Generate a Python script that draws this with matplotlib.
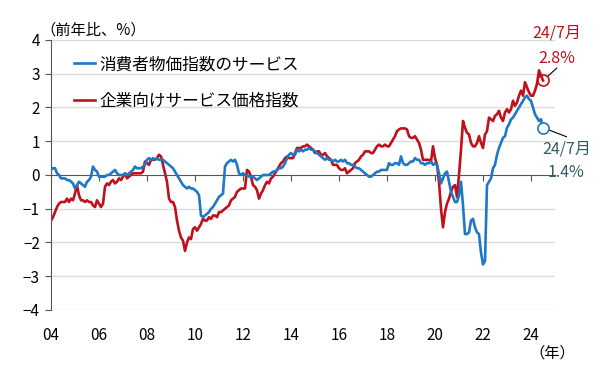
import numpy as np
import matplotlib
matplotlib.use("Agg")
import matplotlib.pyplot as plt

plt.rcParams['font.family'] = ['Noto Sans CJK JP', 'DejaVu Sans']

# 月次データ（2004年1月～2024年7月、前年比%）
cpi_services = [
    0.15, 0.2, 0.2, 0.05, 0.0, -0.1, -0.1, -0.1, -0.15, -0.15, -0.2, -0.25,       # 2004
    -0.4, -0.3, -0.2, -0.25, -0.3, -0.35, -0.2, -0.15, -0.05, 0.25, 0.15, 0.1,     # 2005
    -0.05, -0.05, -0.05, -0.05, 0.0, 0.0, 0.05, 0.1, 0.15, 0.05, 0.0, 0.0,         # 2006
    0.0, 0.05, 0.0, 0.05, 0.1, 0.15, 0.25, 0.2, 0.2, 0.2, 0.25, 0.3,               # 2007
    0.45, 0.5, 0.45, 0.5, 0.45, 0.5, 0.45, 0.45, 0.45, 0.4, 0.35, 0.3,             # 2008
    0.25, 0.2, 0.1, 0.0, -0.1, -0.2, -0.3, -0.35, -0.4, -0.35, -0.4, -0.4,         # 2009
    -0.45, -0.5, -0.6, -1.2, -1.25, -1.2, -1.15, -1.1, -1.0, -0.95, -0.85, -0.75,  # 2010
    -0.65, -0.6, -0.55, 0.25, 0.35, 0.4, 0.45, 0.4, 0.45, 0.3, 0.05, 0.0,          # 2011
    0.05, 0.0, 0.0, -0.05, -0.05, -0.05, -0.1, -0.15, -0.1, -0.05, 0.0, 0.0,       # 2012
    0.0, 0.0, 0.05, 0.1, 0.1, 0.15, 0.2, 0.2, 0.25, 0.35, 0.5, 0.6,                # 2013
    0.65, 0.6, 0.6, 0.75, 0.7, 0.75, 0.7, 0.75, 0.75, 0.8, 0.75, 0.75,             # 2014
    0.7, 0.65, 0.6, 0.55, 0.5, 0.45, 0.5, 0.45, 0.45, 0.4, 0.45, 0.4,              # 2015
    0.4, 0.45, 0.4, 0.45, 0.35, 0.35, 0.3, 0.3, 0.25, 0.2, 0.2, 0.15,              # 2016
    0.1, 0.05, 0.0, -0.05, -0.05, 0.0, 0.05, 0.1, 0.1, 0.15, 0.15, 0.15,           # 2017
    0.15, 0.35, 0.3, 0.3, 0.35, 0.35, 0.3, 0.55, 0.35, 0.3, 0.3, 0.35,             # 2018
    0.4, 0.4, 0.5, 0.45, 0.45, 0.35, 0.35, 0.3, 0.35, 0.35, 0.4, 0.3,              # 2019
    0.35, 0.3, 0.05, -0.25, -0.1, 0.05, 0.1, -0.2, -0.5, -0.65, -0.8, -0.8,        # 2020
    -0.6, -0.2, -0.9, -1.75, -1.75, -1.7, -1.35, -1.3, -1.55, -1.7, -1.75, -2.3,   # 2021
    -2.65, -2.55, -0.3, -0.2, -0.1, 0.2, 0.3, 0.6, 0.8, 0.95, 1.1, 1.15,           # 2022
    1.4, 1.5, 1.65, 1.7, 1.8, 1.9, 2.0, 2.1, 2.2, 2.3, 2.35, 2.25,                 # 2023
    2.2, 2.0, 1.8, 1.7, 1.6, 1.65, 1.4,                                            # 2024
]

cspi = [
    -1.35, -1.25, -1.1, -0.95, -0.85, -0.8, -0.8, -0.8, -0.7, -0.8, -0.7, -0.75,   # 2004
    -0.55, -0.3, -0.6, -0.75, -0.75, -0.8, -0.75, -0.8, -0.8, -0.9, -0.95, -0.75,  # 2005
    -0.85, -0.95, -0.85, -0.35, -0.25, -0.3, -0.2, -0.15, -0.25, -0.2, -0.1, -0.15,  # 2006
    -0.05, 0.05, -0.1, -0.05, 0.0, 0.05, 0.05, 0.05, 0.05, 0.05, 0.1, 0.4,         # 2007
    0.35, 0.3, 0.45, 0.45, 0.45, 0.5, 0.6, 0.55, 0.3, 0.05, -0.2, -0.7,            # 2008
    -0.8, -0.8, -0.95, -1.35, -1.65, -1.85, -1.95, -2.25, -2.0, -1.85, -1.9, -1.6, # 2009
    -1.55, -1.65, -1.55, -1.45, -1.3, -1.35, -1.35, -1.25, -1.3, -1.2, -1.2, -1.25,  # 2010
    -1.1, -1.1, -1.05, -1.0, -0.95, -0.9, -0.75, -0.7, -0.65, -0.5, -0.45, -0.4,   # 2011
    -0.4, -0.4, 0.15, 0.1, -0.05, -0.3, -0.35, -0.45, -0.7, -0.55, -0.45, -0.3,    # 2012
    -0.2, -0.25, -0.1, -0.05, 0.05, 0.15, 0.25, 0.35, 0.4, 0.5, 0.55, 0.5,         # 2013
    0.5, 0.5, 0.65, 0.8, 0.8, 0.8, 0.85, 0.85, 0.9, 0.85, 0.8, 0.75,               # 2014
    0.65, 0.7, 0.7, 0.6, 0.6, 0.65, 0.55, 0.5, 0.45, 0.3, 0.3, 0.3,                # 2015
    0.2, 0.15, 0.15, 0.2, 0.05, 0.1, 0.15, 0.2, 0.35, 0.4, 0.45, 0.55,             # 2016
    0.6, 0.7, 0.7, 0.7, 0.65, 0.65, 0.75, 0.85, 0.9, 0.85, 0.85, 0.9,              # 2017
    0.85, 0.85, 0.95, 1.05, 1.15, 1.3, 1.35, 1.38, 1.38, 1.38, 1.35, 1.15,         # 2018
    1.1, 1.1, 1.15, 1.05, 0.95, 0.75, 0.45, 0.45, 0.45, 0.45, 0.4, 0.85,           # 2019
    0.5, 0.3, -0.2, -1.0, -1.55, -1.1, -0.85, -0.7, -0.5, -0.35, -0.3, -0.65,      # 2020
    0.0, 0.75, 1.6, 1.4, 1.25, 1.2, 0.95, 0.85, 0.85, 0.95, 1.15, 0.95,            # 2021
    0.8, 1.2, 1.3, 1.7, 1.65, 1.6, 1.75, 1.8, 1.9, 1.7, 1.6, 1.85,                 # 2022
    1.95, 1.85, 1.95, 2.2, 2.05, 2.15, 2.35, 2.5, 2.35, 2.75, 2.6, 2.45,           # 2023
    2.35, 2.35, 2.5, 2.7, 3.1, 2.95, 2.8,                                          # 2024
]

start_year = 2004
year_ticks = list(range(2004, 2025, 2))
year_labels = ['04', '06', '08', '10', '12', '14', '16', '18', '20', '22', '24']
label_blue = '消費者物価指数のサービス'
label_red = '企業向けサービス価格指数'

blue = '#1f78c4'
red = '#c0101c'
note_blue = '#2d5e60'

x = start_year + np.arange(len(cpi_services)) / 12
x2 = start_year + np.arange(len(cspi)) / 12

fig = plt.figure(figsize=(6, 3.72), dpi=100)
ax = fig.add_axes([0.085, 0.1667, 0.84, 0.7258])

ax.set_ylim(-4, 4)
ax.set_xlim(2004, 2025)
ax.set_yticks(range(-4, 5))
ax.set_yticklabels([str(v).replace('-', '−') for v in range(-4, 5)])
for v in range(-4, 5):
    if v != 0:
        ax.axhline(v, color='#dcdcdc', lw=1, zorder=0)

ax.plot(x, cpi_services, color=blue, lw=1.9, label=label_blue, zorder=3)
ax.plot(x2, cspi, color=red, lw=1.9, label=label_red, zorder=2)

# 軸
for s in ['top', 'right']:
    ax.spines[s].set_visible(False)
ax.spines['left'].set_color('#555555')
ax.spines['bottom'].set_position(('data', 0))
ax.spines['bottom'].set_color('#555555')
ax.set_xticks(year_ticks[1:])
ax.tick_params(axis='x', length=4, direction='out', color='#555555', labelbottom=False)
ax.tick_params(axis='y', length=4, direction='out', color='#555555', labelsize=11, pad=4)

sec = ax.secondary_xaxis('bottom')
sec.set_xticks(year_ticks)
sec.set_xticklabels(year_labels)
sec.tick_params(length=0, pad=12, labelsize=11)
sec.spines['bottom'].set_visible(False)

ax.legend(loc='upper left', bbox_to_anchor=(0.045, 0.94), frameon=False,
          fontsize=12, handlelength=1.3, handletextpad=0.25, labelspacing=1.15,
          borderpad=0, borderaxespad=0)

# 最新値の注記
ax.plot(x[-1], cpi_services[-1], 'o', ms=8, mfc='white', mec=blue, mew=1.2, zorder=4)
ax.plot(x2[-1], cspi[-1], 'o', ms=8, mfc='none', mec=red, mew=1.2, zorder=4)

ax.annotate('', xy=(x2[-1], cspi[-1]), xytext=(10, 9), textcoords='offset points',
            arrowprops=dict(arrowstyle='-', color='black', lw=0.8, shrinkA=0, shrinkB=4))
ax.annotate('24/7月', xy=(x2[-1], cspi[-1]), xytext=(10, 34), textcoords='offset points',
            ha='center', va='center', color=red, fontsize=11.5, annotation_clip=False)
ax.annotate('2.8%', xy=(x2[-1], cspi[-1]), xytext=(10, 16), textcoords='offset points',
            ha='center', va='center', color=red, fontsize=11.5, annotation_clip=False)

ax.annotate('', xy=(x[-1], cpi_services[-1]), xytext=(17, -6.5), textcoords='offset points',
            arrowprops=dict(arrowstyle='-', color='black', lw=0.8, shrinkA=0, shrinkB=4))
ax.annotate('24/7月', xy=(x[-1], cpi_services[-1]), xytext=(17, -15), textcoords='offset points',
            ha='center', va='center', color=note_blue, fontsize=11.5, annotation_clip=False)
ax.annotate('1.4%', xy=(x[-1], cpi_services[-1]), xytext=(16.5, -32), textcoords='offset points',
            ha='center', va='center', color=note_blue, fontsize=11.5, annotation_clip=False)

fig.text(0.068, 0.918, '（前年比、%）', fontsize=11, ha='left', va='center')
fig.text(0.958, 0.052, '（年）', fontsize=11, ha='right', va='center')

fig.savefig('out.png', dpi=100)
